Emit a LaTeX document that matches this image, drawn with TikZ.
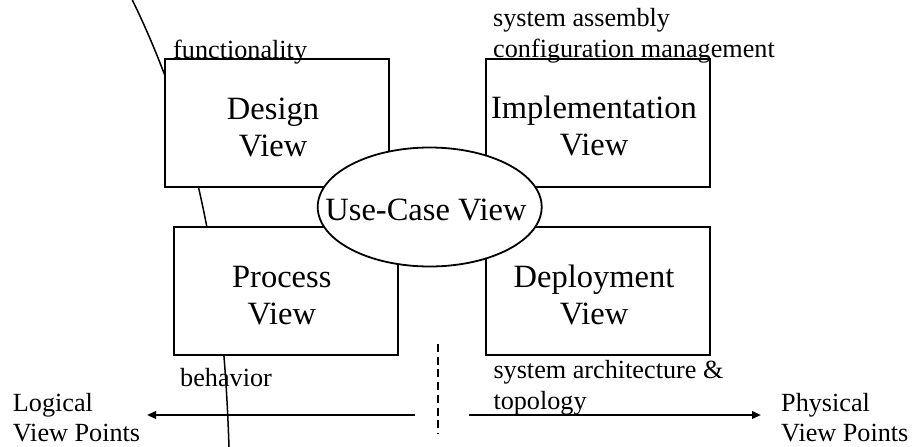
\documentclass[tikz,border=0pt]{standalone}
\usepackage{fontspec}
\setmainfont{Liberation Serif}
\usetikzlibrary{arrows.meta,shapes.geometric}
% two stacked lines whose first baseline is the node's base
\newcommand\lnpair[3]{\begin{tabular}[t]{@{}#1@{}}#2\\#3\end{tabular}}

\begin{document}
\begin{tikzpicture}[x=1pt,y=-1pt,
  viewbox/.style={draw, line width=2pt, fill=white, inner sep=0pt,
                  minimum width=224pt, minimum height=128pt},
  usecase/.style={draw, ellipse, line width=1.8pt, fill=white, inner sep=0pt,
                  minimum width=224pt, minimum height=119pt},
  viewtext/.style={anchor=base, inner sep=0pt,
                   font=\fontsize{32.5}{37}\selectfont},
  note/.style={anchor=base west, inner sep=0pt,
               font=\fontsize{26.2}{30.7}\selectfont},
  axis/.style={line width=2pt, -{Triangle[length=9pt,width=7.5pt]}},
  split/.style={line width=1.8pt, dash pattern=on 8pt off 4.7pt}
]
\useasboundingbox (0,0) rectangle (916,447);
\begin{scope}
  \clip (0,0) rectangle (916,447);
  % the sweeping line behind the views
  \coordinate (ctop) at (132.3,0);
  \coordinate (cbot) at (229,447);
  \draw[line width=1.5pt] (ctop) .. controls (205.3,149) and (224.1,298) .. (cbot);
\end{scope}

% the four views
\node[viewbox] (design) at (277,122.6) {};
\node[viewbox] (impl)   at (598,123) {};
\node[viewbox] (proc)   at (285.5,290.5) {};
\node[viewbox] (depl)   at (598,290.5) {};

% the central use-case view
\node[usecase] (uc) at (429.7,207) {};

\node[viewtext] (designT) at (273,119)   {\lnpair{c}{Design}{View}};
\node[viewtext] (implT)   at (594,118.5) {\lnpair{c}{Implementation}{View}};
\node[viewtext] (procT)   at (281.8,287.3) {\lnpair{c}{Process}{View}};
\node[viewtext] (deplT)   at (594,287.3) {\lnpair{c}{Deployment}{View}};
\node[viewtext] (ucT)     at (426,220) {Use-Case View};

% annotations
\node[note] (func)  at (173,58)    {functionality};
\node[note] (asm)   at (493,26.7)  {\lnpair{l}{system assembly}{configuration management}};
\node[note] (beh)   at (180,386.7) {behavior};
\node[note] (arch)  at (493.3,378.3) {\lnpair{l}{system architecture \&}{topology}};
\node[note] (logic) at (12.7,411)  {\lnpair{l}{Logical}{View Points}};
\node[note] (phys)  at (781,411)   {\lnpair{l}{Physical}{View Points}};

% divider and the two directions
\coordinate (dtop) at (437.7,344);
\coordinate (dbot) at (437.7,433);
\draw[split] (dtop) -- (dbot);
\coordinate (lstart) at (415,415);
\coordinate (lend)   at (147,415);
\coordinate (rstart) at (469,415);
\coordinate (rend)   at (761,415);
\draw[axis] (lstart) -- (lend);
\draw[axis] (rstart) -- (rend);
\end{tikzpicture}
\end{document}
